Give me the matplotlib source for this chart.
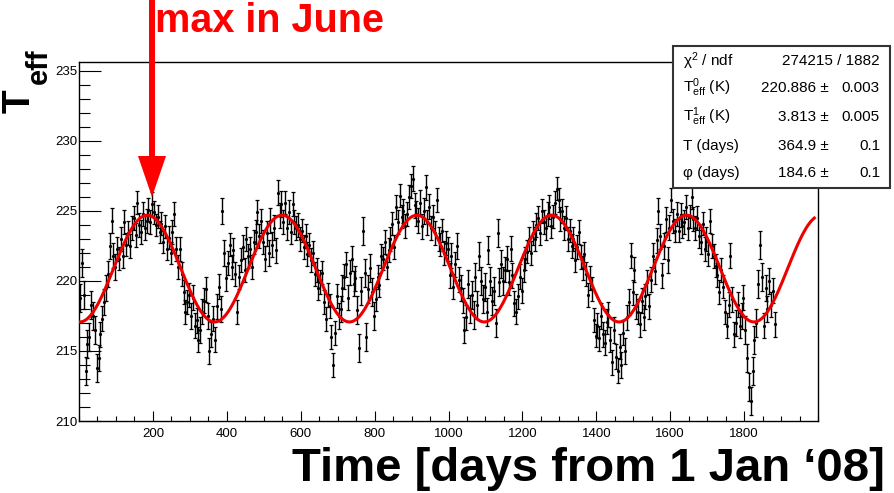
import numpy as np
import matplotlib
matplotlib.use('Agg')
import matplotlib.pyplot as plt
from matplotlib.patches import Rectangle, FancyArrow
from matplotlib.ticker import MultipleLocator, FixedLocator

plt.rcParams['font.family'] = ['Liberation Sans', 'DejaVu Sans']
plt.rcParams['mathtext.fontset'] = 'custom'
plt.rcParams['mathtext.rm'] = 'Liberation Sans'
plt.rcParams['mathtext.it'] = 'Liberation Sans:italic'

# measured T_eff, one value every 5 days (days 3, 8, ..., 1883)
days = np.arange(3, 1884, 5)
teff = [
    218.8, 221.3, 219.0, 213.6, 215.5, 216.0, 218.3, 217.5, 216.5, 213.8,
    214.5, 216.2, 217.3, 218.5, 219.5, 220.5, 222.5, 224.3, 221.8, 221.0,
    222.3, 221.6, 223.0, 221.8, 224.2, 222.6, 223.4, 222.5, 223.8, 224.5,
    223.3, 225.6, 224.0, 223.5, 224.8, 223.8, 224.3, 225.1, 224.2, 225.5,
    224.9, 224.0, 224.6, 223.5, 224.1, 222.8, 223.9, 222.3, 223.1, 222.0,
    223.5, 224.8, 222.3, 221.0, 222.3, 220.5, 219.2, 217.8, 218.5, 219.0,
    217.5, 218.8, 216.8, 217.2, 215.8, 216.5, 217.8, 218.6, 219.4, 217.5,
    215.0, 216.2, 217.3, 215.8, 218.2, 219.6, 218.0, 225.0, 222.0, 220.2,
    221.3, 222.6, 221.0, 222.2, 220.5, 217.8, 220.3, 221.5, 222.4, 220.8,
    223.0, 221.8, 222.3, 221.0, 222.8, 223.5, 224.9, 223.2, 224.3, 222.8,
    221.6, 223.4, 222.0, 224.3, 222.6, 223.8, 222.2, 226.3, 224.7, 225.5,
    224.2, 225.6, 223.8, 224.9, 223.5, 225.5, 224.2, 223.8, 224.0, 223.0,
    223.6, 222.4, 223.2, 221.9, 222.6, 221.5, 222.0, 220.5, 220.8, 219.5,
    219.9, 220.6, 218.5, 217.3, 219.0, 218.2, 216.0, 214.0, 216.3, 218.9,
    217.5, 218.0, 219.5, 220.3, 221.2, 218.8, 220.6, 221.6, 219.8, 220.2,
    217.9, 215.2, 219.3, 223.6, 220.6, 216.0, 219.4, 220.9, 219.2, 217.5,
    218.7, 220.3, 219.7, 221.8, 221.6, 222.8, 221.0, 222.2, 223.0, 224.1,
    222.4, 225.3, 224.2, 226.1, 224.6, 225.0, 223.9, 224.8, 226.0, 226.8,
    227.3, 225.4, 224.8, 224.3, 225.6, 223.9, 225.0, 226.7, 224.2, 225.3,
    223.8, 224.6, 223.4, 225.8, 223.0, 222.6, 223.6, 222.0, 222.7, 222.3,
    220.4, 221.8, 219.6, 221.2, 222.5, 220.1, 219.5, 218.6, 216.5, 217.4,
    219.8, 218.0, 219.0, 217.6, 220.3, 218.3, 221.8, 220.0, 218.7, 219.6,
    217.8, 222.2, 220.0, 218.6, 219.3, 217.0, 223.4, 219.9, 221.2, 220.0,
    220.8, 221.6, 219.9, 222.3, 220.4, 218.4, 217.8, 218.9, 220.3, 219.3,
    220.8, 221.6, 222.1, 223.0, 222.0, 223.4, 223.0, 224.0, 224.5, 223.4,
    225.0, 224.2, 223.8, 224.8, 225.3, 223.9, 224.6, 225.6, 226.6, 225.8,
    224.4, 225.0, 223.8, 224.5, 223.0, 223.6, 222.5, 223.0, 221.5, 222.4,
    223.5, 221.7, 220.9, 221.9, 220.5, 219.0, 220.2, 219.4, 217.2, 216.1,
    216.8, 215.9, 217.5, 216.2, 215.6, 217.1, 217.6, 215.8, 214.2, 216.5,
    214.6, 213.6, 215.3, 214.0, 216.3, 215.0, 217.4, 218.5, 221.8, 219.2,
    220.8, 218.2, 217.8, 216.9, 218.6, 217.4, 218.9, 219.9, 218.2, 220.1,
    221.8, 220.7, 222.9, 225.0, 223.2, 220.4, 222.5, 224.4, 221.5, 223.8,
    225.8, 224.3, 223.6, 224.8, 223.6, 224.7, 223.9, 224.2, 225.3, 223.8,
    224.6, 226.0, 224.4, 223.8, 224.5, 223.2, 222.8, 224.1, 222.3, 223.0,
    221.9, 224.3, 222.5, 221.8, 221.1, 220.4, 219.2, 220.8, 219.6, 217.8,
    216.8, 218.3, 221.8, 218.7, 216.2, 217.0, 218.3, 216.8, 217.5, 218.8,
    216.5, 214.5, 212.4, 211.4, 213.6, 215.8, 217.0, 219.8, 222.6, 220.3,
    216.8, 219.5, 218.0, 220.0, 218.3, 219.3, 216.9,
]
# error bar half size for each 50-day block
block_err = [1.0, 0.9, 0.85, 0.85, 0.8, 0.85, 0.9, 0.9, 0.85, 0.85,
             0.9, 0.85, 0.85, 0.85, 0.9, 1.0, 0.85, 0.85, 0.9, 0.85,
             0.9, 1.0, 1.0, 0.9, 0.85, 0.85, 0.85, 0.85, 0.9, 0.9,
             0.9, 0.9, 0.85, 0.85, 0.85, 0.9, 1.0, 0.9]
teff_err = np.repeat(block_err, 10)[:len(teff)]

# fit results (stats box)
fit_T0 = 220.886
fit_T1 = 3.813
fit_period = 364.9
fit_phase = 184.6
fit_range = (0, 1990)

stat_names = ['\u03c7$^{2}$ / ndf', r'T$^{0}_{\rm eff}$ (K)', r'T$^{1}_{\rm eff}$ (K)',
              'T (days)', '\u03c6 (days)']
stat_values = ['', '220.886 \u00b1', '3.813 \u00b1', '364.9 \u00b1', '184.6 \u00b1']
stat_errors = ['274215 / 1882', '0.003', '0.005', '0.1', '0.1']

fig = plt.figure(figsize=(8.94, 4.93), dpi=100)
ax = fig.add_axes([79/894, 1 - 421/493, (818 - 79)/894, (421 - 62)/493])

ax.errorbar(days, teff, yerr=teff_err, fmt='.', ms=2.6, color='black',
            elinewidth=1.0, capsize=1.4, capthick=0.9, zorder=2)

tt = np.linspace(fit_range[0], fit_range[1], 800)
fit = fit_T0 + fit_T1 * np.cos(2 * np.pi * (tt - fit_phase) / fit_period)
ax.plot(tt, fit, color='#ee0000', lw=2.2, zorder=3)

ax.set_xlim(0, 2000)
ax.set_ylim(210, 235.64)
ax.xaxis.set_major_locator(FixedLocator([200, 400, 600, 800, 1000, 1200, 1400, 1600, 1800]))
ax.xaxis.set_minor_locator(MultipleLocator(50))
ax.yaxis.set_major_locator(MultipleLocator(5))
ax.yaxis.set_minor_locator(MultipleLocator(1))
ax.tick_params(axis='both', which='both', direction='in', top=False, right=False,
               width=0.8, labelsize=9.5)
ax.tick_params(axis='x', which='major', length=7, pad=5)
ax.tick_params(axis='x', which='minor', length=3.6)
ax.tick_params(axis='y', which='major', length=15.5, pad=1)
ax.tick_params(axis='y', which='minor', length=8)
for sp in ax.spines.values():
    sp.set_linewidth(1.0)

# stats box
fig.patches.append(Rectangle((673/894, 1 - 188/493), (890 - 673)/894, (188 - 46)/493,
                             transform=fig.transFigure, facecolor='white',
                             edgecolor='#333333', lw=1.5, zorder=5))
row_y = [60.7, 88, 117, 146, 173]
for name, val, err, y in zip(stat_names, stat_values, stat_errors, row_y):
    fig.text(683/894, 1 - y/493, name, ha='left', va='center', fontsize=11, zorder=6)
    fig.text(829/894, 1 - y/493, val, ha='right', va='center', fontsize=11, zorder=6)
    fig.text(880/894, 1 - y/493, err, ha='right', va='center', fontsize=11, zorder=6)

# axis titles
fig.text(885/894, 1 - 481/493, 'Time [days from 1 Jan \u201808]', ha='right', va='baseline',
         fontsize=34, fontweight='bold')
fig.text(2/894, 1 - 113/493, 'T', rotation=90, ha='left', va='bottom',
         fontsize=28, fontweight='bold')
fig.text(25/894, 1 - 84/493, 'eff', rotation=90, ha='left', va='bottom',
         fontsize=21, fontweight='bold')

# annotation
fig.text(155/894, 1 - 32/493, 'max in June', ha='left', va='baseline',
         fontsize=28.5, fontweight='bold', color='red')
fig.patches.append(FancyArrow(1.52, 4.95, 0, -(4.95 - 2.96), width=0.06,
                              head_width=0.28, head_length=0.41,
                              length_includes_head=True, color='red', lw=0,
                              transform=fig.dpi_scale_trans, zorder=7))

plt.savefig('out.png', dpi=100)
